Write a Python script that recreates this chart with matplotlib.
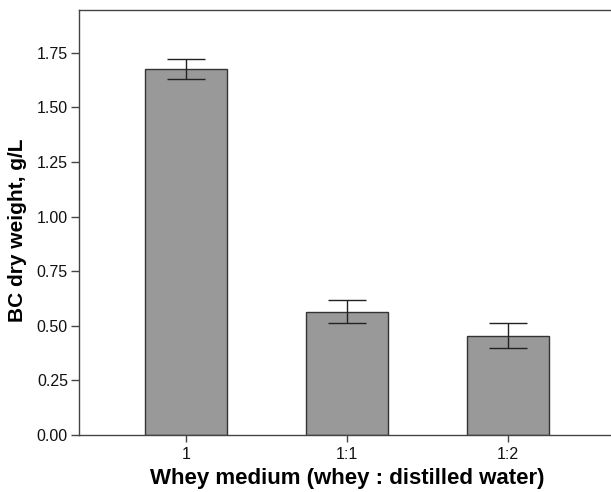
import numpy as np
import matplotlib.pyplot as plt

plt.rcParams['font.family'] = ['Liberation Sans', 'DejaVu Sans']

# whey medium dilutions and measured BC dry weight
groups = ['1', '1:1', '1:2']
means = [1.676, 0.565, 0.455]
errs = [0.046, 0.052, 0.056]

fig = plt.figure(figsize=(6.11, 4.92), dpi=100)
ax = fig.add_axes([0.1293, 0.1159, 0.877, 0.8638])

x = np.arange(len(groups))
ax.bar(x, means, width=0.51, color='#999999', edgecolor='#333333', linewidth=1.0, zorder=2)
ax.errorbar(x, means, yerr=errs, fmt='none', ecolor='#222222', elinewidth=1.0,
            capsize=13.5, capthick=1.0, zorder=3)

ax.set_xlim(-0.665, 2.665)
ax.set_ylim(0, 1.946)
ax.set_yticks([0, 0.25, 0.5, 0.75, 1.0, 1.25, 1.5, 1.75])
ax.set_yticklabels(['0.00', '0.25', '0.50', '0.75', '1.00', '1.25', '1.50', '1.75'])
ax.set_xticks(x)
ax.set_xticklabels(groups)

for s in ax.spines.values():
    s.set_color('#444444')
    s.set_linewidth(1.0)
ax.tick_params(axis='both', direction='out', width=1.0, color='#444444',
               labelsize=11.5, labelcolor='#111111', pad=2)
ax.tick_params(axis='y', length=6)
ax.tick_params(axis='x', length=5, pad=4)

ax.set_xlabel('Whey medium (whey : distilled water)', fontsize=16, fontweight='bold', labelpad=4)
ax.set_ylabel('BC dry weight, g/L', fontsize=15, fontweight='bold')
ax.yaxis.set_label_coords(-0.097, 0.482)

fig.savefig('out.png', dpi=100)
